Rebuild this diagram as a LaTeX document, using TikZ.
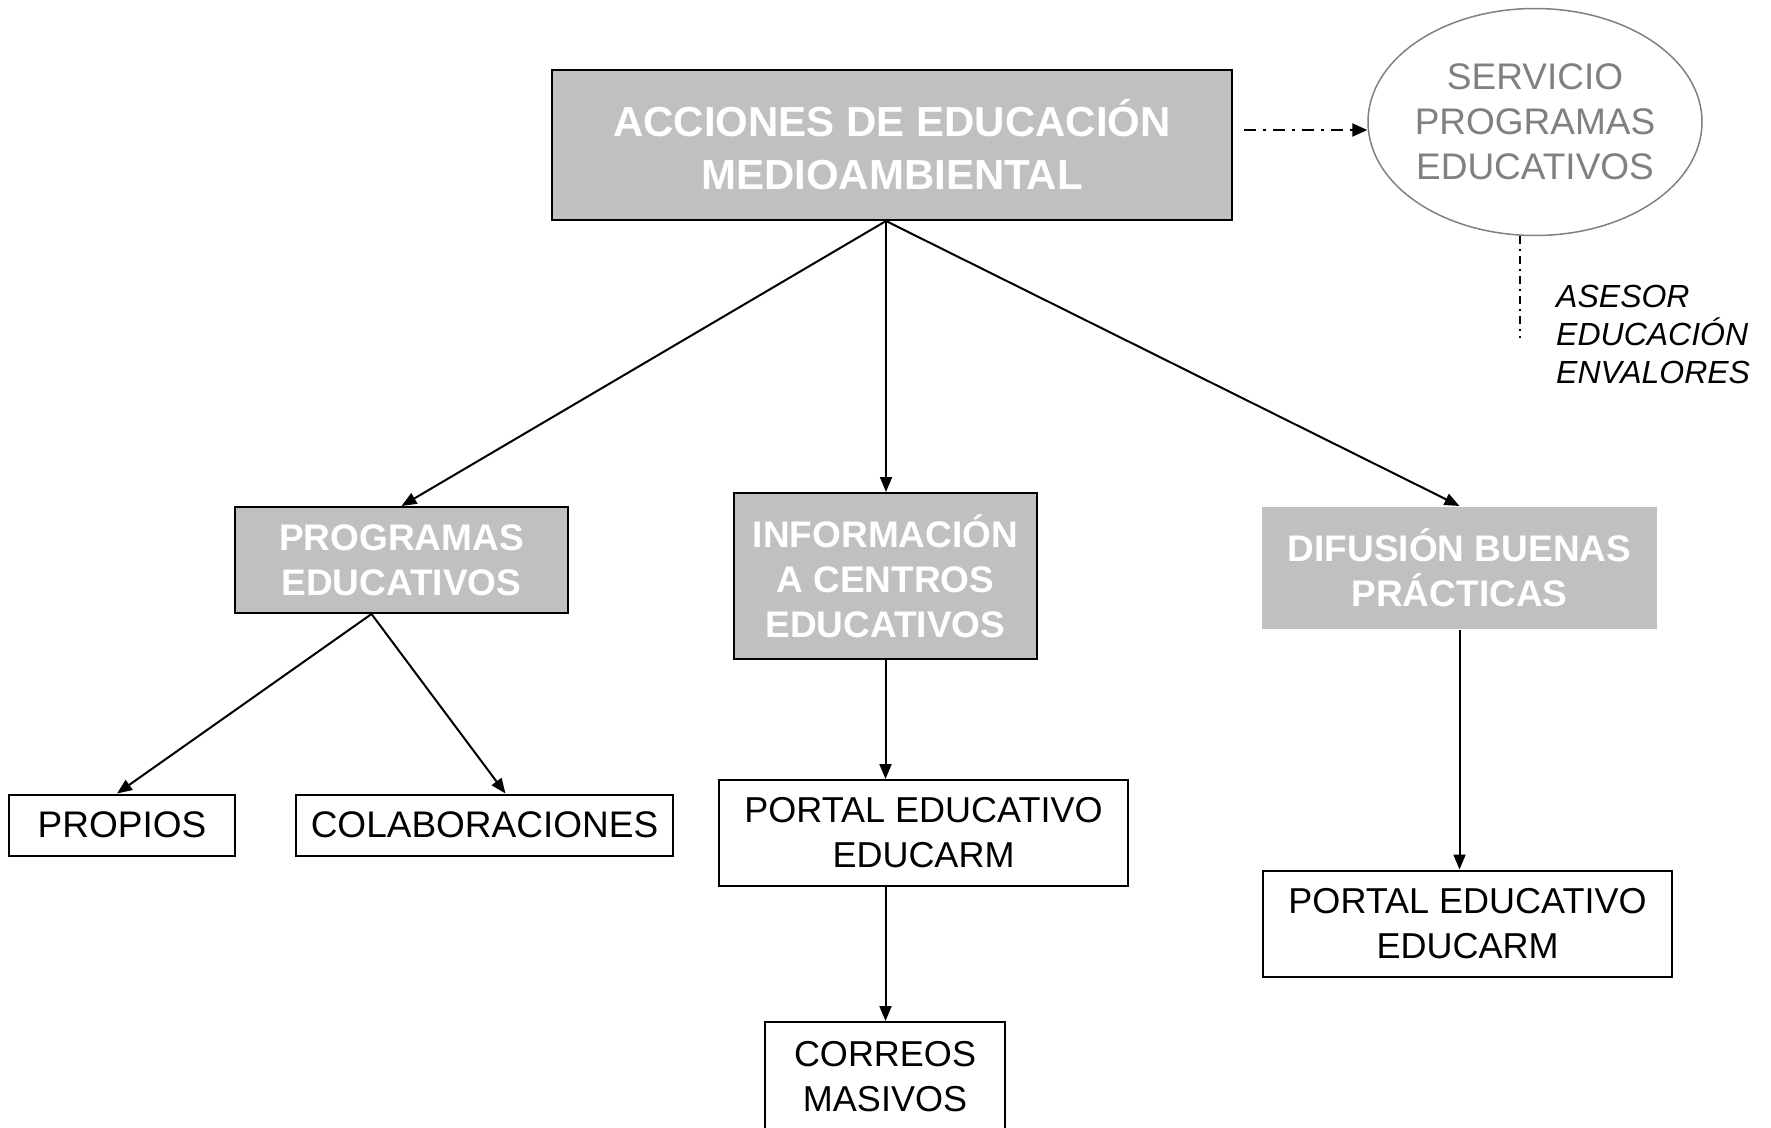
\documentclass[tikz,border=0pt]{standalone}
\usepackage{fontspec}
\setmainfont{Liberation Sans}
\usetikzlibrary{arrows.meta,shapes.geometric}
\definecolor{boxgray}{HTML}{C0C0C0}
\definecolor{ellgray}{HTML}{808080}
\begin{document}
\begin{tikzpicture}[x=1pt,y=-1pt,
  conn/.style={line width=2pt,-{Triangle[length=15pt,width=12pt]}},
  graybox/.style={draw=black,line width=2pt,fill=boxgray,text=white,
    font=\bfseries\fontsize{37}{45}\selectfont,align=center,inner sep=0pt},
  whitebox/.style={draw=black,line width=2pt,fill=white,
    font=\fontsize{36}{45}\selectfont,align=center,inner sep=0pt},
]
\useasboundingbox (0,0) rectangle (1771,1127);
\clip (0,0) rectangle (1771,1127);

\node[graybox,minimum width=680pt,minimum height=150pt,
  font=\bfseries\fontsize{42}{53}\selectfont] (main) at (892,145)
  {ACCIONES DE EDUCACIÓN\\MEDIOAMBIENTAL};

\node[draw=ellgray,line width=1.5pt,ellipse,minimum width=334pt,minimum height=227pt,
  text=ellgray,font=\fontsize{37}{45}\selectfont,align=center,
  inner xsep=-20pt,inner ysep=0pt]
  (serv) at (1535,122) {SERVICIO\\PROGRAMAS\\EDUCATIVOS};

\node[anchor=west,font=\itshape\fontsize{32}{38}\selectfont,align=left,inner sep=0pt]
  (ases) at (1556,334) {ASESOR\\EDUCACIÓN\\ENVALORES};

\node[graybox,minimum width=333pt,minimum height=106pt] (prog) at (401.5,560)
  {PROGRAMAS\\EDUCATIVOS};
\node[graybox,minimum width=303pt,minimum height=166pt] (info) at (885.5,576)
  {INFORMACIÓN\\A CENTROS\\EDUCATIVOS};
\node[graybox,draw=none,minimum width=395pt,minimum height=122pt] (difu) at (1459.5,568)
  {DIFUSIÓN BUENAS\\PRÁCTICAS};

\node[whitebox,minimum width=226pt,minimum height=61pt,font=\fontsize{37}{45}\selectfont]
  (prop) at (122,825) {PROPIOS};
\node[whitebox,minimum width=377pt,minimum height=61pt,font=\fontsize{37}{45}\selectfont]
  (colab) at (484.5,825) {COLABORACIONES};
\node[whitebox,minimum width=409pt,minimum height=106pt] (portal1) at (923.5,833)
  {PORTAL EDUCATIVO\\EDUCARM};
\node[whitebox,minimum width=240pt,minimum height=110pt] (correos) at (885,1077)
  {CORREOS\\MASIVOS};
\node[whitebox,minimum width=409pt,minimum height=106pt] (portal2) at (1467.5,923.5)
  {PORTAL EDUCATIVO\\EDUCARM};

% connectors
\coordinate (msrc) at ([xshift=-6pt]main.south);
\draw[conn] (msrc) -- (prog.north);
\draw[conn] (msrc) -- (msrc |- info.north);
\draw[conn] (msrc) -- (difu.north);

\coordinate (psrc) at ([xshift=-30pt]prog.south);
\draw[conn] (psrc) -- ([xshift=-5pt]prop.north);
\draw[conn] (psrc) -- ([xshift=21pt]colab.north);

\draw[conn] (info.south) -- (info.south |- portal1.north);
\draw[conn] (info.south |- portal1.south) -- (info.south |- correos.north);
\draw[conn] (difu.south) -- (difu.south |- portal2.north);

% dash-dot connectors
\coordinate (dstart) at (1244,130);
\draw[line width=2.2pt,dash pattern=on 12pt off 7pt on 3pt off 7pt,
  -{Triangle[length=15pt,width=13pt]}] (dstart) -- (dstart -| serv.west);
\coordinate (vend) at (1520,338);
\draw[line width=1.5pt,dash pattern=on 8pt off 5pt on 2pt off 5pt]
  (vend |- serv.south) -- (vend);
\end{tikzpicture}
\end{document}
